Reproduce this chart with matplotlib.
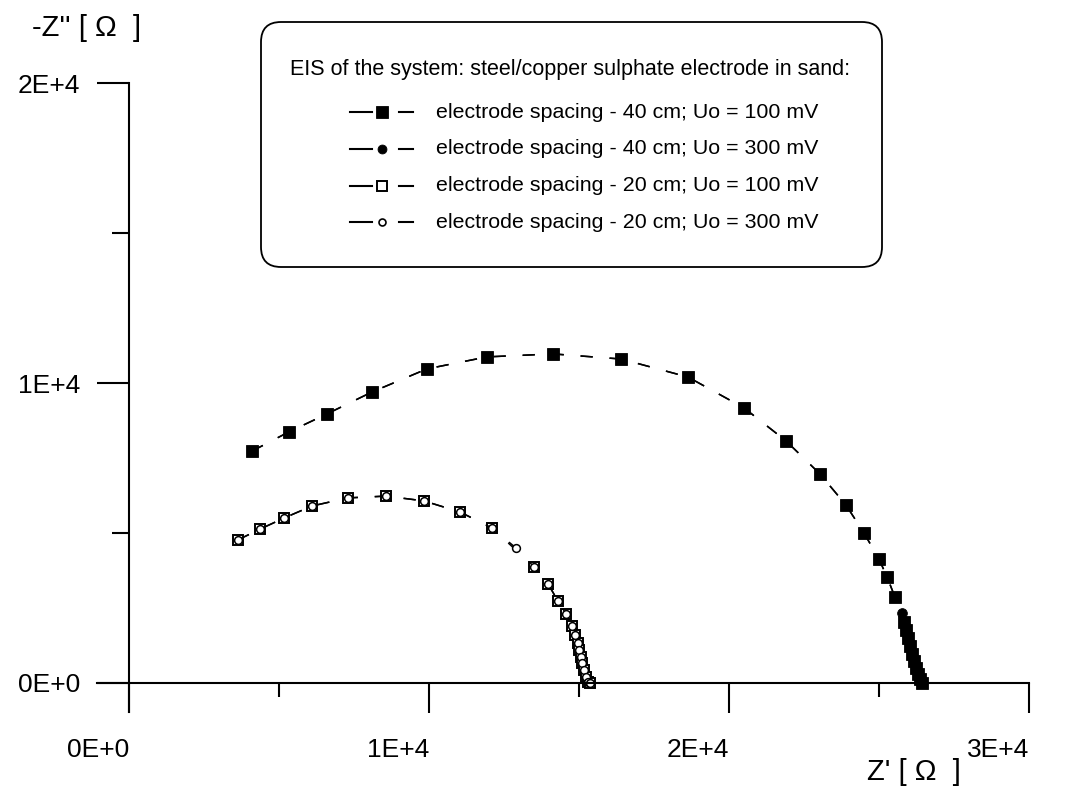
import matplotlib.pyplot as plt
from matplotlib.lines import Line2D
from matplotlib.patches import FancyBboxPatch
from matplotlib.transforms import IdentityTransform

# =============================
# Data (Nyquist plot, values in ohm)
# =============================

# electrode spacing 40 cm, Uo = 100 mV
sq40_x = [4100, 5330, 6600, 8100, 9930, 11930, 14130, 16400, 18630, 20500,
          21900, 23030, 23900, 24500, 25000, 25270, 25530, 25830, 25900, 25970,
          26030, 26100, 26170, 26230, 26300, 26370, 26430]
sq40_y = [7730, 8370, 8970, 9700, 10470, 10870, 10970, 10800, 10200, 9170,
          8070, 6970, 5930, 5000, 4130, 3530, 2870, 2030, 1770, 1500,
          1230, 970, 730, 500, 300, 130, 0]

# electrode spacing 40 cm, Uo = 300 mV
ci40_x = [4100, 5330, 6600, 8100, 9930, 11930, 14130, 16400, 18630, 20500,
          21900, 23030, 23900, 24500, 25000, 25270, 25530, 25770, 25900, 25970,
          26030, 26100, 26170, 26230, 26300, 26370, 26430]
ci40_y = [7730, 8370, 8970, 9700, 10470, 10870, 10970, 10800, 10200, 9170,
          8070, 6970, 5930, 5000, 4130, 3530, 2870, 2330, 1770, 1500,
          1230, 970, 730, 500, 300, 130, 0]

# electrode spacing 20 cm, Uo = 100 mV
sq20_x = [3630, 4370, 5170, 6100, 7300, 8570, 9830, 11030, 12100, 13500,
          13970, 14300, 14570, 14770, 14870, 14970, 15000, 15070, 15100, 15170,
          15230, 15300, 15370]
sq20_y = [4770, 5130, 5500, 5900, 6170, 6230, 6070, 5700, 5170, 3870,
          3300, 2730, 2300, 1900, 1600, 1330, 1100, 870, 670, 430,
          200, 30, 0]

# electrode spacing 20 cm, Uo = 300 mV
ci20_x = [3630, 4370, 5170, 6100, 7300, 8570, 9830, 11030, 12100, 12900,
          13500, 13970, 14300, 14570, 14770, 14870, 14970, 15000, 15070, 15100,
          15170, 15230, 15300, 15370]
ci20_y = [4770, 5130, 5500, 5900, 6170, 6230, 6070, 5700, 5170, 4500,
          3870, 3300, 2730, 2300, 1900, 1600, 1330, 1100, 870, 670,
          430, 200, 30, 0]

x_ticks = [0, 10000, 20000, 30000]
x_tick_labels = ["0E+0", "1E+4", "2E+4", "3E+4"]
y_ticks = [0, 10000, 20000]
y_tick_labels = ["0E+0", "1E+4", "2E+4"]

legend_title = "EIS of the system: steel/copper sulphate electrode in sand:"
legend_labels = [
    "electrode spacing - 40 cm; Uo = 100 mV",
    "electrode spacing - 40 cm; Uo = 300 mV",
    "electrode spacing - 20 cm; Uo = 100 mV",
    "electrode spacing - 20 cm; Uo = 300 mV",
]

# =============================
# Figure
# =============================

plt.rcParams['font.family'] = ['Liberation Sans', 'DejaVu Sans']

W, H = 1069, 789
fig = plt.figure(figsize=(W / 100, H / 100), dpi=100)
ax = fig.add_axes([129 / W, (H - 683) / H, 900 / W, 600 / H])

dash = (0, (8, 11))
line_kw = dict(color="black", lw=1.1, linestyle=dash, clip_on=False)

ax.plot(sq40_x, sq40_y, marker="s", ms=8.2, mfc="black", mec="black", mew=0.6, **line_kw)
ax.plot(ci40_x, ci40_y, marker="o", ms=7.0, mfc="black", mec="black", mew=0.6, **line_kw)
ax.plot(sq20_x, sq20_y, marker="s", ms=7.0, mfc="white", mec="black", mew=1.4, **line_kw)
ax.plot(ci20_x, ci20_y, marker="o", ms=5.6, mfc="white", mec="black", mew=1.1, **line_kw)

ax.set_xlim(0, 30000)
ax.set_ylim(0, 20000)

for s in ["top", "right"]:
    ax.spines[s].set_visible(False)
ax.spines["left"].set_linewidth(1.5)
ax.spines["bottom"].set_linewidth(1.5)
ax.spines["left"].set_bounds(-967, 20000)
ax.spines["bottom"].set_bounds(-1067, 30000)

ax.set_xticks(x_ticks)
ax.set_xticklabels(x_tick_labels, ha="right")
ax.set_xticks([5000, 15000, 25000], minor=True)
ax.set_yticks(y_ticks)
ax.set_yticklabels(y_tick_labels)
ax.set_yticks([5000, 15000], minor=True)

ax.tick_params(axis="x", which="major", direction="out", length=21.5, width=1.5,
               labelsize=19, pad=18)
ax.tick_params(axis="x", which="minor", direction="out", length=10, width=1.5)
ax.tick_params(axis="y", which="major", direction="out", length=23, width=1.5,
               labelsize=19, pad=12)
ax.tick_params(axis="y", which="minor", direction="out", length=12, width=1.5)

# axis titles
fig.text(32 / W, 1 - 28 / H, "-Z'' [ \u03a9  ]", fontsize=21, ha="left", va="center")
fig.text(867 / W, 1 - 772 / H, "Z' [ \u03a9  ]", fontsize=21, ha="left", va="center")

# =============================
# Legend box (drawn in pixel coordinates)
# =============================

ident = IdentityTransform()
box = FancyBboxPatch((261, H - 267), 621, 245,
                     boxstyle="round,pad=0,rounding_size=20",
                     transform=ident, fc="white", ec="black", lw=1.3)
fig.add_artist(box)

fig.text(570 / W, 1 - 70 / H, legend_title, fontsize=15.5, ha="center", va="center")

handle_styles = [
    dict(marker="s", ms=8.0, mfc="black", mec="black", mew=0.6),
    dict(marker="o", ms=6.4, mfc="black", mec="black", mew=0.6),
    dict(marker="s", ms=6.6, mfc="white", mec="black", mew=1.4),
    dict(marker="o", ms=5.0, mfc="white", mec="black", mew=1.2),
]
row_y = [112, 149, 185.5, 222]

for label, style, yy in zip(legend_labels, handle_styles, row_y):
    yd = H - yy
    fig.add_artist(Line2D([350, 372], [yd, yd], color="black", lw=1.5, transform=ident))
    fig.add_artist(Line2D([399, 413], [yd, yd], color="black", lw=1.5, transform=ident))
    fig.add_artist(Line2D([382], [yd], linestyle="none", transform=ident, **style))
    fig.text(436 / W, 1 - yy / H, label, fontsize=15.4, ha="left", va="center")

fig.savefig("out.png", dpi=100)
